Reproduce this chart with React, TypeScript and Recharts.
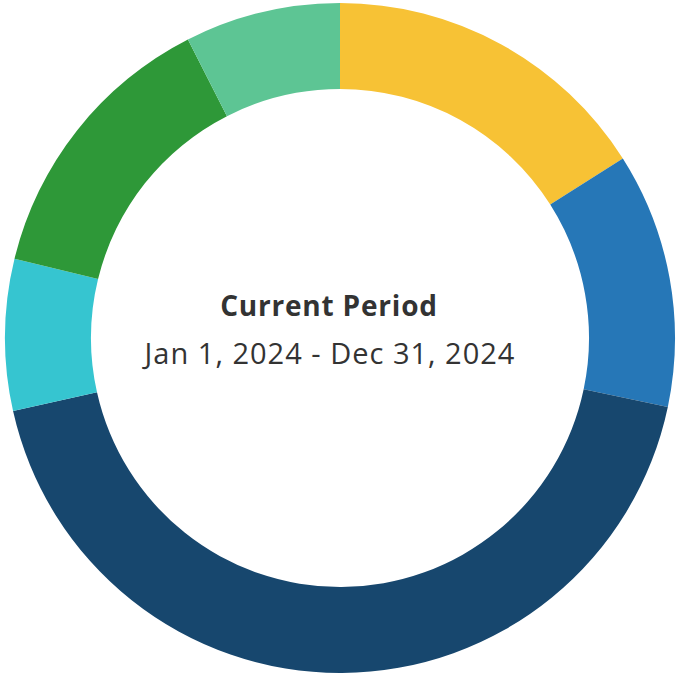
import { PieChart, Pie, Cell } from "recharts";

const categories = ["Category A", "Category B", "Category C", "Category D", "Category E", "Category F"];
const shares = [16.0, 12.3, 43.2, 7.3, 13.7, 7.5];
const colors = ["#F7C235", "#2677B7", "#17476E", "#36C5D0", "#2E9838", "#5DC594"];

const data = categories.map((name, i) => ({ name, value: shares[i] }));

export default function App() {
  return (
    <div style={{ position: "fixed", left: 0, top: 0, width: 676, height: 676, background: "#fff" }}>
      <PieChart width={676} height={676} margin={{ top: 0, right: 0, bottom: 0, left: 0 }}>
        <Pie
          data={data}
          dataKey="value"
          nameKey="name"
          cx={340}
          cy={338}
          innerRadius={249}
          outerRadius={335}
          startAngle={90}
          endAngle={-270}
          stroke="none"
          isAnimationActive={false}
        >
          {data.map((d, i) => (
            <Cell key={d.name} fill={colors[i]} />
          ))}
        </Pie>
        <text
          x={329}
          y={305}
          textAnchor="middle"
          dominantBaseline="central"
          fontFamily="'Open Sans', sans-serif"
          fontSize={28}
          fontWeight={700}
          letterSpacing={0.8}
          fill="#333333"
        >
          Current Period
        </text>
        <text
          x={330}
          y={352}
          textAnchor="middle"
          dominantBaseline="central"
          fontFamily="'Open Sans', sans-serif"
          fontSize={29}
          letterSpacing={1}
          fill="#333333"
        >
          Jan 1, 2024 - Dec 31, 2024
        </text>
      </PieChart>
    </div>
  );
}
